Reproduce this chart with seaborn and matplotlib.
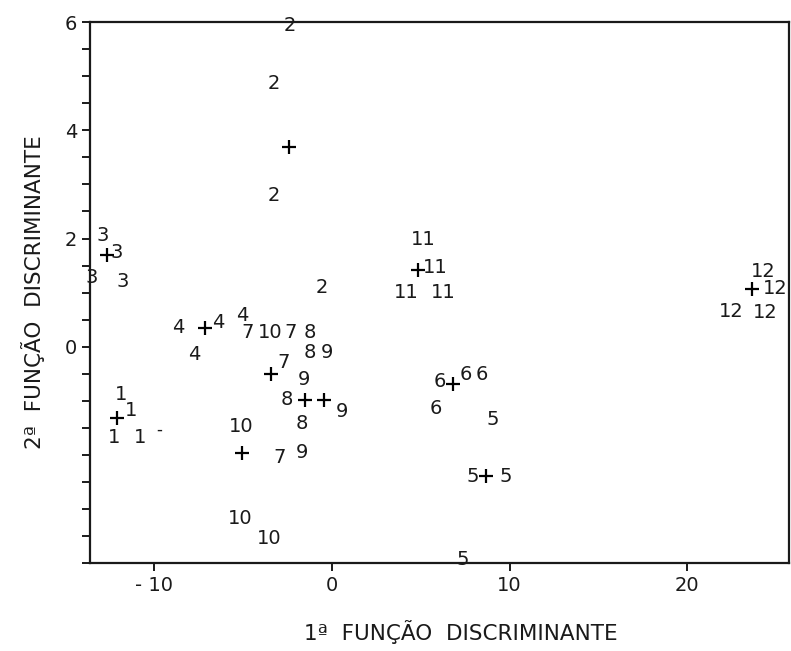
import numpy as np
import pandas as pd
import seaborn as sns
import matplotlib.pyplot as plt

# group of each observation, and its scores on the two discriminant functions
obs_group = [1, 1, 1, 1,
             2, 2, 2, 2,
             3, 3, 3, 3,
             4, 4, 4, 4,
             5, 5, 5, 5,
             6, 6, 6, 6,
             7, 7, 7, 7,
             8, 8, 8, 8,
             9, 9, 9, 9,
             10, 10, 10, 10,
             11, 11, 11, 11,
             12, 12, 12, 12]
obs_x = [-11.86, -11.30, -12.26, -10.79,
         -2.37, -3.28, -3.28, -0.56,
         -12.88, -12.09, -13.50, -11.75,
         -8.64, -6.38, -5.03, -7.74,
         9.04, 7.91, 9.77, 7.34,
         6.05, 7.51, 8.42, 5.82,
         -4.75, -2.32, -2.71, -2.94,
         -1.24, -1.24, -2.54, -1.69,
         -0.28, -1.58, 0.56, -1.69,
         -3.45, -5.08, -5.14, -3.50,
         5.14, 5.82, 4.18, 6.27,
         24.29, 24.97, 22.49, 24.41]
obs_y = [-0.89, -1.17, -1.67, -1.67,
         5.93, 4.87, 2.80, 1.09,
         2.06, 1.74, 1.28, 1.20,
         0.35, 0.44, 0.57, -0.15,
         -1.35, -2.39, -2.39, -3.94,
         -0.65, -0.52, -0.52, -1.15,
         0.26, 0.26, -0.30, -2.04,
         0.26, -0.11, -0.98, -1.41,
         -0.11, -0.61, -1.20, -1.96,
         0.26, -1.48, -3.17, -3.54,
         1.98, 1.46, 1.00, 1.00,
         1.39, 1.07, 0.65, 0.63]

# group centroids
cent_group = [1, 2, 3, 4, 5, 6, 7, 8, 9, 10, 11, 12]
cent_x = [-12.09, -2.43, -12.66, -7.12, 8.70, 6.84, -3.45, -1.53, -0.45, -5.08, 4.86, 23.62]
cent_y = [-1.31, 3.69, 1.69, 0.35, -2.39, -0.69, -0.50, -0.98, -0.98, -1.96, 1.41, 1.06]

x_ticks = [-10, 0, 10, 20]
x_tick_labels = ["- 10", "0", "10", "20"]
y_labelled = [0, 2, 4, 6]

obs = pd.DataFrame({"x": obs_x, "y": obs_y, "group": obs_group})
cent = pd.DataFrame({"x": cent_x, "y": cent_y, "group": cent_group})

sns.set_style("ticks")
plt.rcParams["font.family"] = ["DejaVu Sans"]

fig = plt.figure(figsize=(7.91, 6.51), dpi=100)
ax = fig.add_axes([0.114, 0.135, 0.883, 0.831])

sns.scatterplot(data=cent, x="x", y="y", marker="+", s=110, color="black",
                linewidth=1.6, ax=ax, legend=False)

for _, r in obs.iterrows():
    ax.text(r["x"], r["y"], str(int(r["group"])), ha="center", va="center",
            fontsize=14, color="#1a1a1a")

# stray mark next to group 1 in the original
ax.text(-9.72, -1.54, "-", ha="center", va="center", fontsize=12, color="#1a1a1a")

ax.set_xlim(-13.6, 25.7)
ax.set_ylim(-4, 6)
ax.set_xticks(x_ticks)
ax.set_xticklabels(x_tick_labels)
yt = np.arange(-4, 6.01, 0.5)
ax.set_yticks(yt)
ax.set_yticklabels([f"{v:g}" if v in y_labelled else "" for v in yt])

for side in ["left", "right", "top", "bottom"]:
    ax.spines[side].set_linewidth(1.6)
    ax.spines[side].set_color("#1a1a1a")
ax.tick_params(axis="both", direction="out", length=6, width=1.4,
               labelsize=14, colors="#1a1a1a")

ax.set_xlabel("1ª  FUNÇÃO  DISCRIMINANTE", fontsize=15.5, color="#1a1a1a")
ax.xaxis.set_label_coords(0.53, -0.105)
ax.set_ylabel("2ª  FUNÇÃO  DISCRIMINANTE", fontsize=15.5, labelpad=14,
              color="#1a1a1a")

fig.savefig("out.png", dpi=100)
